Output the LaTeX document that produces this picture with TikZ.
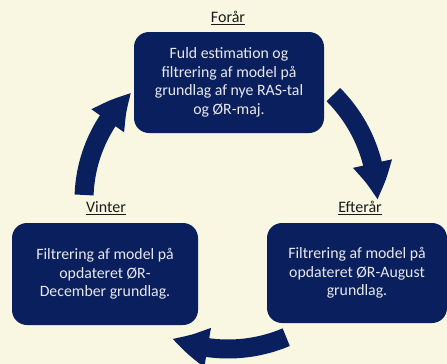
\documentclass[tikz,border=0pt]{standalone}
\usepackage{fontspec}
\setmainfont{Carlito}
\usetikzlibrary{arrows.meta,bending}
\definecolor{bgcream}{HTML}{F9F7E1}
\definecolor{navy}{HTML}{0A1F5E}
\definecolor{boxtext}{HTML}{E8E8EE}
\definecolor{titletext}{HTML}{1A1A1A}
\tikzset{
  season/.style={draw=none, fill=navy, rounded corners=15pt, text=boxtext,
    align=center, inner sep=0pt,
    font=\fontsize{15.8}{18.5}\selectfont},
  seasontitle/.style={text=titletext, inner sep=0pt,
    font=\fontsize{16}{18}\selectfont},
  cyclearrow/.style={draw=navy, line width=19pt,
    -{Triangle[bend,width=37pt,length=37pt]}}
}
\begin{document}
\begin{tikzpicture}[x=1pt,y=1pt]
\fill[bgcream] (0,0) rectangle (447,-364);
\useasboundingbox (0,0) rectangle (447,-364);
\coordinate (C) at (228,-200);
% arrows (arcs on a circle round C)
\draw[cyclearrow] ([shift={(C)}]45:149) arc[start angle=45,end angle=0,radius=149];
\draw[cyclearrow] ([shift={(C)}]-67:149) arc[start angle=-67,end angle=-112,radius=149];
\draw[cyclearrow] ([shift={(C)}]178:144) arc[start angle=178,end angle=132,radius=144];
% boxes
\node[season, minimum width=190pt, minimum height=101pt] (forar) at (229,-82.5)
  {Fuld estimation og\\filtrering af model på\\grundlag af nye RAS-tal\\og ØR-maj.};
\node[season, minimum width=186pt, minimum height=102pt] (vinter) at (105,-274)
  {Filtrering af model på\\opdateret ØR-\\December grundlag.};
\node[season, minimum width=180pt, minimum height=100pt] (efterar) at (357,-273)
  {Filtrering af model på\\opdateret ØR-August\\grundlag.};
% titles
\node[seasontitle] (tforar) at (228,-18) {\underline{Forår}};
\node[seasontitle] (tvinter) at (106,-208) {\underline{Vinter}};
\node[seasontitle] (tefterar) at (360,-208) {\underline{Efterår}};
\end{tikzpicture}
\end{document}
